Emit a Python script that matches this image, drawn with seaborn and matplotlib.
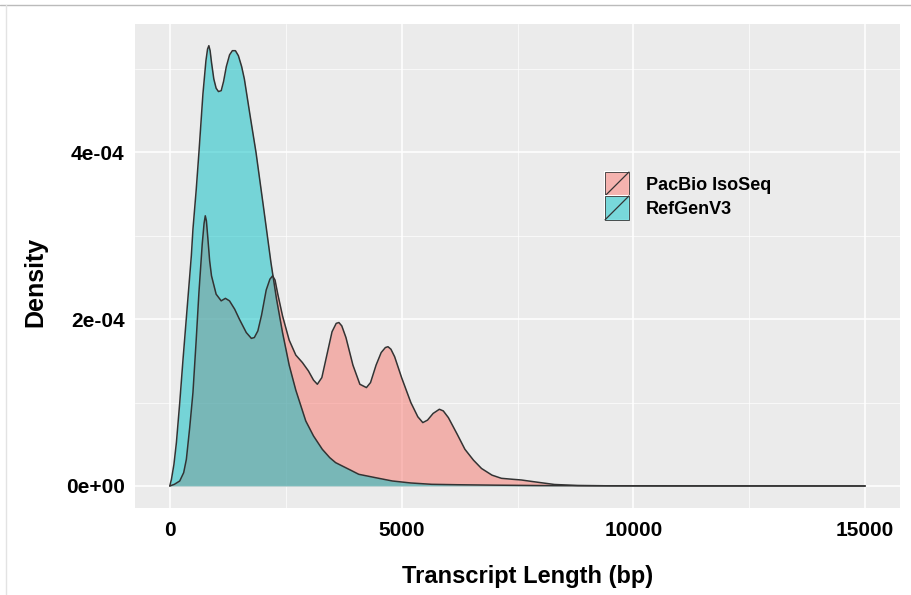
import numpy as np
import pandas as pd
import matplotlib
matplotlib.use("Agg")
import matplotlib.pyplot as plt
import seaborn as sns
from matplotlib.patches import Rectangle, Patch
from matplotlib.lines import Line2D
from matplotlib.legend_handler import HandlerBase
from matplotlib.ticker import FixedLocator

# ---------------- data ----------------
series_names = ["PacBio IsoSeq", "RefGenV3"]
series_colors = ["#F8766D", "#00BFC4"]

pacbio_bp = [0, 100, 215, 300, 358, 430, 500, 570, 629, 700, 740, 766, 790, 820, 860, 900,
             1000, 1109, 1200, 1288, 1400, 1502, 1650, 1760, 1824, 1900, 1980, 2080, 2160,
             2218, 2270, 2330, 2432, 2575, 2718, 2861, 2990, 3100, 3183, 3280, 3400, 3500,
             3590, 3648, 3710, 3800, 3950, 4100, 4242, 4330, 4450, 4560, 4650, 4707, 4770,
             4850, 5000, 5200, 5350, 5458, 5560, 5680, 5815, 5900, 6009, 6200, 6366, 6550,
             6724, 6950, 7153, 7400, 7582, 7800, 8000, 8298, 8800, 9500, 10500, 12000, 15000]
pacbio_density = [0, 2e-6, 6e-6, 1.6e-5, 3.2e-5, 7e-5, 1.12e-4, 1.75e-4, 2.32e-4, 2.9e-4,
                  3.15e-4, 3.24e-4, 3.18e-4, 2.98e-4, 2.7e-4, 2.52e-4,
                  2.3e-4, 2.22e-4, 2.25e-4, 2.22e-4, 2.12e-4, 2.0e-4, 1.84e-4, 1.77e-4, 1.78e-4,
                  1.86e-4, 2.05e-4, 2.35e-4, 2.48e-4,
                  2.52e-4, 2.47e-4, 2.3e-4, 2.04e-4, 1.75e-4, 1.57e-4, 1.48e-4, 1.38e-4,
                  1.27e-4, 1.22e-4, 1.3e-4, 1.6e-4, 1.85e-4,
                  1.95e-4, 1.96e-4, 1.92e-4, 1.78e-4, 1.45e-4, 1.22e-4, 1.18e-4, 1.24e-4,
                  1.45e-4, 1.6e-4, 1.66e-4, 1.67e-4, 1.64e-4,
                  1.55e-4, 1.3e-4, 1.0e-4, 8.3e-5, 7.6e-5, 7.9e-5, 8.7e-5, 9.2e-5, 9.0e-5,
                  8.2e-5, 6.2e-5, 4.4e-5, 3.1e-5,
                  2.1e-5, 1.3e-5, 9.2e-6, 8e-6, 7.2e-6, 5.5e-6, 4e-6, 1.8e-6, 6e-7, 2e-7,
                  1e-7, 5e-8, 0]

refgen_bp = [0, 36, 90, 143, 215, 286, 380, 465, 500, 570, 629, 715, 780, 815, 843, 870, 900,
             950, 1000, 1050, 1109, 1160, 1220, 1290, 1350, 1416, 1480, 1550, 1609, 1730, 1860,
             2020, 2182, 2300, 2432, 2575, 2718, 2933, 3100, 3290, 3450, 3577, 3720, 3900,
             4077, 4435, 4800, 5200, 5650, 6200, 7000, 8000, 9000, 11000, 15000]
refgen_density = [0, 8e-6, 2.6e-5, 5.2e-5, 1.0e-4, 1.52e-4, 2.17e-4, 2.76e-4, 3.08e-4, 3.55e-4,
                  4.0e-4, 4.7e-4, 5.1e-4, 5.24e-4, 5.28e-4, 5.22e-4, 5.08e-4,
                  4.88e-4, 4.77e-4, 4.73e-4, 4.74e-4, 4.85e-4, 5.03e-4, 5.17e-4, 5.22e-4,
                  5.22e-4, 5.16e-4, 5.03e-4, 4.88e-4, 4.45e-4, 4.0e-4,
                  3.35e-4, 2.68e-4, 2.25e-4, 1.84e-4, 1.45e-4, 1.15e-4, 7.8e-5, 6e-5, 4.4e-5,
                  3.4e-5, 2.8e-5, 2.4e-5, 1.9e-5,
                  1.4e-5, 1e-5, 6e-6, 3.6e-6, 2e-6, 1.5e-6, 1e-6, 5e-7, 3e-7, 1e-7, 0]

x_ticks = [0, 5000, 10000, 15000]
x_tick_labels = ["0", "5000", "10000", "15000"]
y_ticks = [0, 2e-4, 4e-4]
y_tick_labels = ["0e+00", "2e-04", "4e-04"]
x_title = "Transcript Length (bp)"
y_title = "Density"

# ---------------- style ----------------
sns.set_theme(style="darkgrid", rc={
    "axes.facecolor": "#EBEBEB",
    "grid.color": "white",
    "axes.edgecolor": "#EBEBEB",
    "text.color": "black",
    "axes.labelcolor": "black",
    "xtick.color": "black",
    "ytick.color": "black",
})
plt.rcParams["font.family"] = ["Liberation Sans", "DejaVu Sans"]
plt.rcParams["font.weight"] = "bold"

W, H = 912, 595
fig = plt.figure(figsize=(W / 100, H / 100), dpi=100)
fig.patch.set_facecolor("white")
L, R, T, B = 135, 900, 24, 508
ax = fig.add_axes([L / W, 1 - B / H, (R - L) / W, (B - T) / H])

frames = {
    series_names[0]: pd.DataFrame({"bp": pacbio_bp, "density": pacbio_density}),
    series_names[1]: pd.DataFrame({"bp": refgen_bp, "density": refgen_density}),
}
outline = "#333333"
for name, color in zip(series_names, series_colors):
    df = frames[name]
    ax.fill_between(df["bp"], 0, df["density"], color=color, alpha=0.5, lw=0, zorder=2)
    sns.lineplot(data=df, x="bp", y="density", color=outline, lw=1.1, ax=ax,
                 estimator=None, sort=False, zorder=3)

ax.set_xlim(-750, 15750)
ax.set_ylim(-2.64e-5, 5.54e-4)
ax.set_xticks(x_ticks)
ax.set_xticklabels(x_tick_labels)
ax.set_yticks(y_ticks)
ax.set_yticklabels(y_tick_labels)
ax.xaxis.set_minor_locator(FixedLocator([2500, 7500, 12500]))
ax.yaxis.set_minor_locator(FixedLocator([1e-4, 3e-4, 5e-4]))
ax.grid(True, which="major", color="white", lw=1.1, zorder=0)
ax.grid(True, which="minor", color="white", lw=0.5, zorder=0)
ax.set_axisbelow(True)
for s in ax.spines.values():
    s.set_visible(False)
ax.tick_params(axis="both", which="major", length=3.5, width=0.8, color="#444444",
               labelcolor="black")
ax.tick_params(axis="both", which="minor", length=0)
ax.tick_params(axis="x", labelsize=15, pad=6)
ax.tick_params(axis="y", labelsize=15, pad=4)
for lab in ax.get_xticklabels() + ax.get_yticklabels():
    lab.set_fontweight("bold")
    lab.set_color("black")

ax.set_xlabel(x_title, fontsize=17, fontweight="bold", va="center", color="black")
ax.set_ylabel(y_title, fontsize=18, fontweight="bold", va="center", color="black")
ax.xaxis.set_label_coords((528 - L) / (R - L), (B - 577) / (B - T))
ax.yaxis.set_label_coords((35 - L) / (R - L), (B - 282) / (B - T))


# ---------------- legend ----------------
class DensityKey(HandlerBase):
    def create_artists(self, legend, orig_handle, xdescent, ydescent, width, height,
                       fontsize, trans):
        x0, y0 = -xdescent, -ydescent
        bg = Rectangle((x0, y0), width, height, facecolor="#F2F2F2", edgecolor="white",
                       lw=1.5, transform=trans)
        fill = Rectangle((x0, y0), width, height, facecolor=orig_handle.get_facecolor(),
                         edgecolor=outline, lw=0.6, transform=trans)
        diag = Line2D([x0, x0 + width], [y0, y0 + height], color=outline, lw=0.9,
                      transform=trans)
        return [bg, fill, diag]


handles = [Patch(facecolor=matplotlib.colors.to_rgba(c, 0.5), label=n)
           for n, c in zip(series_names, series_colors)]
fs = 13
leg = ax.legend(handles=handles, labels=series_names, handler_map={Patch: DensityKey()},
                loc="upper left", bbox_to_anchor=(605 / W, 1 - 172 / H),
                bbox_transform=fig.transFigure, frameon=False, fontsize=fs,
                prop={"weight": "bold", "size": fs}, borderpad=0, borderaxespad=0,
                handlelength=24 / (fs * 1.389), handleheight=30 / (fs * 1.389),
                labelspacing=0, handletextpad=17 / (fs * 1.389))
for t in leg.get_texts():
    t.set_color("black")

# figure border lines seen in the reference
fig.add_artist(Line2D([0, 1], [1 - 4.5 / H, 1 - 4.5 / H], transform=fig.transFigure,
                      color="#BBBBBB", lw=1.0))
fig.add_artist(Line2D([6.5 / W, 6.5 / W], [0, 1 - 4.5 / H], transform=fig.transFigure,
                      color="#E3E3E3", lw=1.0))

fig.savefig("out.png", dpi=100, facecolor="white")
